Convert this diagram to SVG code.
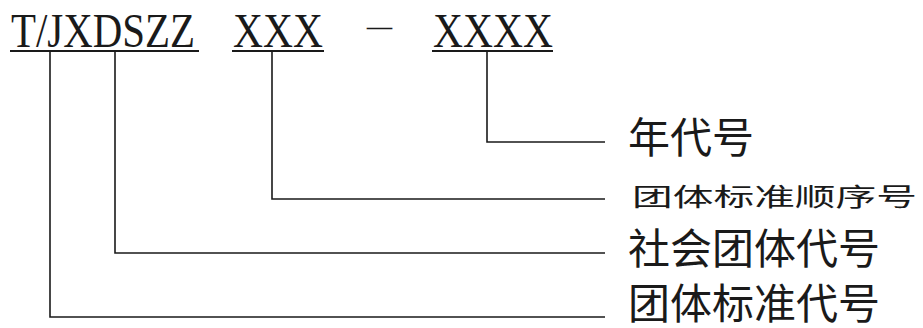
<svg xmlns="http://www.w3.org/2000/svg" width="923" height="328" viewBox="0 0 923 328">
<style>
.code{font-family:"Liberation Serif","Times New Roman",serif;font-size:48px;fill:#1a1a1a}
.dash{font-family:"Liberation Serif","Times New Roman",serif;font-size:30px;fill:#1a1a1a}
.lbl{font-family:"Noto Sans CJK SC","Noto Sans",sans-serif;font-size:42px;fill:#1a1a1a}
.ul{stroke:#1a1a1a;stroke-width:2;fill:none}
.cn{stroke:#1a1a1a;stroke-width:1.6;fill:none}
</style>
<rect width="923" height="328" fill="#ffffff"/>
<g id="code">
<text class="code" x="11" y="47" textLength="184" lengthAdjust="spacingAndGlyphs">T/JXDSZZ</text>
<text class="code" x="233" y="47" textLength="90" lengthAdjust="spacingAndGlyphs">XXX</text>
<text class="dash" x="367" y="36" textLength="25" lengthAdjust="spacingAndGlyphs">–</text>
<text class="code" x="433" y="47" textLength="120" lengthAdjust="spacingAndGlyphs">XXXX</text>
<line class="ul" x1="10" y1="51" x2="199" y2="51"/>
<line class="ul" x1="232" y1="51" x2="324" y2="51"/>
<line class="ul" x1="432" y1="51" x2="553" y2="51"/>
</g>
<g id="connectors">
<polyline class="cn" points="487,51 487,142 605,142"/>
<polyline class="cn" points="272,51 272,199 605,199"/>
<polyline class="cn" points="115,51 115,253 605,253"/>
<polyline class="cn" points="50,51 50,317 605,317"/>
</g>
<g id="label-year">
<text class="lbl" x="628" y="153">年代号</text>
</g>
<g id="label-seq">
<text class="lbl" transform="translate(632,206) scale(1,0.6)" x="0" y="0" textLength="285" lengthAdjust="spacingAndGlyphs">团体标准顺序号</text>
</g>
<g id="label-org">
<text class="lbl" x="628" y="264">社会团体代号</text>
</g>
<g id="label-std">
<text class="lbl" x="628" y="319">团体标准代号</text>
</g>
</svg>
